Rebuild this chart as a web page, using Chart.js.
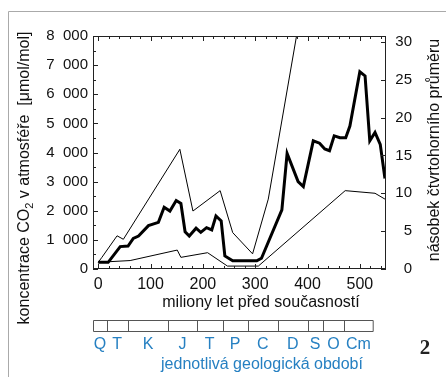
<!DOCTYPE html>
<html lang="cs">
<head>
<meta charset="UTF-8">
<title>CO2 v atmosféře</title>
<style>
  html, body { margin: 0; padding: 0; background: #fff; }
</style>
</head>
<body>
<canvas id="co2" width="446" height="377"></canvas>
<script src="https://cdn.jsdelivr.net/npm/chart.js@4/dist/chart.umd.min.js"></script>
<script>
// stáří (mil. let) a koncentrace CO2 (µmol/mol) - hlavní křivka
var midAge = [0, 19, 42, 57, 67, 77, 96, 115, 126, 137, 149, 158, 166, 174, 187, 196, 207, 217, 225, 235, 242, 257, 303, 312, 351, 361, 382, 392, 411, 423, 433, 442, 451, 462, 473, 481, 500, 510, 519, 529, 539, 548];
var midCo2 = [230, 230, 770, 790, 1050, 1130, 1490, 1600, 2120, 1990, 2350, 2250, 1280, 1130, 1400, 1260, 1420, 1340, 1820, 1650, 450, 280, 280, 370, 2030, 3970, 3000, 2830, 4400, 4320, 4120, 4060, 4570, 4510, 4510, 4910, 6770, 6630, 4400, 4690, 4280, 3110];
// horní mez nejistoty
var hiAge = [0, 7, 36, 48, 156, 181, 233, 257, 295, 325, 379];
var hiCo2 = [230, 400, 1140, 1020, 4110, 1990, 2690, 1250, 520, 2400, 8000];
// dolní mez nejistoty
var loAge = [0, 61, 151, 158, 209, 247, 306, 472, 529, 548];
var loCo2 = [230, 290, 650, 400, 560, 100, 100, 2690, 2600, 2400];

var xTicks = [0, 100, 200, 300, 400, 500];
var periods = ['Q', 'T', 'K', 'J', 'T', 'P', 'C', 'D', 'S', 'O', 'Cm'];
var quatAvg = 260; // čtvrtohorní průměr, µmol/mol

// hranice políček v liště období (px)
var barEdges = [93, 106.7, 127.7, 168.3, 196.7, 222.7, 247.7, 277.7, 307.7, 322.7, 344.3, 372.7];

function pts(a, b) {
    var out = [];
    for (var i = 0; i < a.length; i++) out.push({x: a[i], y: b[i]});
    return out;
}
function fmt(v) {
    return String(v).replace(/\B(?=(\d{3})+(?!\d))/g, '\u2007');
}

var FONT = "'Liberation Sans', Arial, sans-serif";
var BLUE = '#2680c2';

var decor = {
    id: 'decor',
    afterDraw: function (chart) {
        var ctx = chart.ctx, a = chart.chartArea;
        var sx = chart.scales.x, sy = chart.scales.y, sr = chart.scales.y2;
        var i, p, len;
        ctx.save();

        // šedý rámeček kolem obrázku
        ctx.strokeStyle = '#aaaaaa';
        ctx.lineWidth = 1;
        ctx.beginPath();
        ctx.moveTo(8.5, 377); ctx.lineTo(8.5, 11.5); ctx.lineTo(446, 11.5);
        ctx.stroke();

        // rámeček grafu + ticky dovnitř
        ctx.strokeStyle = '#222';
        ctx.strokeRect(a.left + 0.5, a.top + 0.5, a.right - a.left - 1, a.bottom - a.top - 1);
        ctx.beginPath();
        for (i = 0; i <= 540; i += 20) {
            p = Math.round(sx.getPixelForValue(i)) + 0.5;
            len = (i % 100 === 0) ? 5 : 3;
            ctx.moveTo(p, a.bottom); ctx.lineTo(p, a.bottom - len);
            ctx.moveTo(p, a.top); ctx.lineTo(p, a.top + len);
        }
        for (i = 0; i <= 8000; i += 500) {
            p = Math.round(sy.getPixelForValue(i)) + 0.5;
            len = (i % 1000 === 0) ? 5 : 3;
            ctx.moveTo(a.left, p); ctx.lineTo(a.left + len, p);
        }
        for (i = 0; i <= 30; i += 5) {
            p = Math.round(sr.getPixelForValue(i)) + 0.5;
            ctx.moveTo(a.right, p); ctx.lineTo(a.right - 5, p);
        }
        ctx.stroke();

        ctx.fillStyle = '#111';
        ctx.textBaseline = 'middle';

        // popisek osy x
        ctx.font = '16px ' + FONT;
        ctx.textAlign = 'center';
        ctx.fillText('miliony let před současností', 261, 303);

        // levý popisek (otočený) s dolním indexem
        ctx.save();
        ctx.translate(25, 178);
        ctx.rotate(-Math.PI / 2);
        var t1 = 'koncentrace CO', t2 = '2', t3 = ' v atmosféře  [μmol/mol]';
        ctx.font = '16px ' + FONT;
        var w1 = ctx.measureText(t1).width, w3 = ctx.measureText(t3).width;
        ctx.font = '11px ' + FONT;
        var w2 = ctx.measureText(t2).width;
        var x0 = -(w1 + w2 + w3) / 2;
        ctx.textAlign = 'left';
        ctx.font = '16px ' + FONT;
        ctx.fillText(t1, x0, 0);
        ctx.font = '11px ' + FONT;
        ctx.fillText(t2, x0 + w1, 5);
        ctx.font = '16px ' + FONT;
        ctx.fillText(t3, x0 + w1 + w2, 0);
        ctx.restore();

        // pravý popisek
        ctx.save();
        ctx.translate(435, 150);
        ctx.rotate(-Math.PI / 2);
        ctx.textAlign = 'center';
        ctx.font = '16px ' + FONT;
        ctx.fillText('násobek čtvrtohorního průměru', 0, 0);
        ctx.restore();

        // lišta geologických období
        ctx.strokeStyle = '#555';
        ctx.beginPath();
        ctx.rect(barEdges[0] + 0.5, 320.5, barEdges[barEdges.length - 1] - barEdges[0], 11);
        for (i = 1; i < barEdges.length - 1; i++) {
            p = Math.round(barEdges[i]) + 0.5;
            ctx.moveTo(p, 320.5); ctx.lineTo(p, 331.5);
        }
        ctx.stroke();

        ctx.fillStyle = BLUE;
        ctx.font = '16px ' + FONT;
        ctx.textAlign = 'center';
        for (i = 0; i < periods.length; i++) {
            ctx.fillText(periods[i], (barEdges[i] + barEdges[i + 1]) / 2, 345);
        }
        ctx.fillText('jednotlivá geologická období', 262, 365);

        // číslo obrázku
        ctx.fillStyle = '#222';
        ctx.font = "bold 21px 'Liberation Serif', serif";
        ctx.fillText('2', 425, 349);

        ctx.restore();
    }
};

Chart.defaults.font.family = FONT;
Chart.defaults.color = '#111';

new Chart(document.getElementById('co2'), {
    type: 'scatter',
    data: {
        datasets: [
            {data: pts(midAge, midCo2), showLine: true, borderColor: '#000', borderWidth: 3, pointRadius: 0, yAxisID: 'y'},
            {data: pts(hiAge, hiCo2), showLine: true, borderColor: '#000', borderWidth: 1, pointRadius: 0, yAxisID: 'y'},
            {data: pts(loAge, loCo2), showLine: true, borderColor: '#000', borderWidth: 1, pointRadius: 0, yAxisID: 'y'}
        ]
    },
    options: {
        responsive: false,
        animation: false,
        devicePixelRatio: 1,
        layout: {padding: {left: 0, top: 36, right: 34, bottom: 0}},
        plugins: {legend: {display: false}, tooltip: {enabled: false}},
        scales: {
            x: {
                type: 'linear', min: -10, max: 550,
                grid: {display: false, drawTicks: false},
                border: {display: false},
                afterBuildTicks: function (s) { s.ticks = xTicks.map(function (v) { return {value: v}; }); },
                afterFit: function (s) { s.height = 108; },
                ticks: {padding: 6, autoSkip: false, maxRotation: 0, font: {size: 16}, color: '#111'}
            },
            y: {
                type: 'linear', position: 'left', min: 0, max: 8000,
                grid: {display: false, drawTicks: false},
                border: {display: false},
                afterFit: function (s) { s.width = 93; },
                ticks: {stepSize: 1000, padding: 5, includeBounds: false, font: {size: 15}, color: '#111',
                        callback: function (v) { return fmt(v); }}
            },
            y2: {
                type: 'linear', position: 'right', display: true, min: 0, max: 8000 / quatAvg,
                grid: {display: false, drawTicks: false},
                border: {display: false},
                afterFit: function (s) { s.width = 26; },
                ticks: {stepSize: 5, padding: 9, includeBounds: false, crossAlign: 'far', font: {size: 15}, color: '#111'}
            }
        }
    },
    plugins: [decor]
});
</script>
</body>
</html>
